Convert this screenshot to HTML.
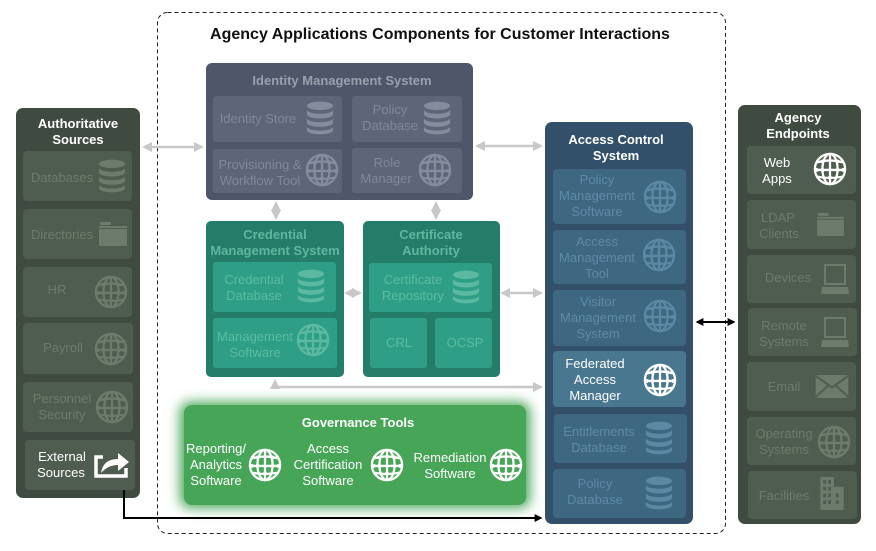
<!DOCTYPE html>
<html><head><meta charset="utf-8"><style>
html,body{margin:0;padding:0;background:#fff;}
svg{display:block;font-family:"Liberation Sans",sans-serif;}
</style></head><body>
<svg width="876" height="551" viewBox="0 0 876 551" xmlns="http://www.w3.org/2000/svg">
<defs>
<symbol id="globe" viewBox="0 0 36 36" overflow="visible">
<g fill="none" stroke="currentColor" stroke-width="2.4">
<circle cx="18" cy="18" r="16"/>
<ellipse cx="18" cy="18" rx="8" ry="16"/>
<line x1="18" y1="2" x2="18" y2="34"/>
<path d="M4 11 Q18 7 32 11"/>
<path d="M2.5 19 H33.5"/>
<path d="M4 26 Q18 29 32 26"/>
</g>
<g fill="currentColor"><circle cx="10" cy="10" r="2"/><circle cx="26" cy="10" r="2"/><circle cx="10" cy="19" r="2"/><circle cx="26" cy="19" r="2"/><circle cx="18" cy="27" r="2"/><circle cx="4" cy="19" r="2"/><circle cx="32" cy="19" r="2"/></g>
</symbol>
<symbol id="db" viewBox="0 0 30 36" overflow="visible">
<g fill="currentColor">
<ellipse cx="15" cy="5" rx="14" ry="4.5"/>
<path d="M1 9 v5 a14 4.5 0 0 0 28 0 v-5 a14 4.5 0 0 1 -28 0z"/>
<path d="M1 18 v5 a14 4.5 0 0 0 28 0 v-5 a14 4.5 0 0 1 -28 0z"/>
<path d="M1 27 v4 a14 4.5 0 0 0 28 0 v-4 a14 4.5 0 0 1 -28 0z"/>
</g>
</symbol>
<symbol id="folder" viewBox="0 0 28 24" overflow="visible">
<g fill="currentColor"><rect x="1" y="0" width="11" height="3"/><rect x="0" y="4" width="28" height="2"/><rect x="0" y="7" width="28" height="17"/></g>
</symbol>
<symbol id="laptop" viewBox="0 0 28 30" overflow="visible">
<g fill="currentColor"><path d="M3 0 H25 V21 H3Z M5 2 V19 H23 V2Z" fill-rule="evenodd"/><path d="M1 23 H27 L28 30 H0Z"/></g>
</symbol>
<symbol id="mail" viewBox="0 0 34 24" overflow="visible">
<rect x="0" y="0" width="34" height="24" fill="currentColor"/>
<path d="M0 1 L17 13 L34 1 M0 23 L13 11 M34 23 L21 11" stroke="var(--bg)" stroke-width="2" fill="none"/>
</symbol>
<symbol id="bldg" viewBox="0 0 24 34" overflow="visible">
<path fill="currentColor" fill-rule="evenodd" d="M0 0 H14 V10 H24 V34 H0Z M3 3h3v4h-3z M8 3h3v4h-3z M3 10h3v4h-3z M8 10h3v4h-3z M3 17h3v4h-3z M8 17h3v4h-3z M16 17h3v4h-3z M3 24h3v4h-3z M8 24h3v4h-3z M16 24h3v4h-3z"/>
</symbol>
<filter id="glow" x="-20%" y="-40%" width="140%" height="180%"><feGaussianBlur stdDeviation="6"/></filter>
<marker id="ga" viewBox="0 0 10 10" refX="8" refY="5" markerWidth="4" markerHeight="4" orient="auto-start-reverse"><path d="M0 0 L10 5 L0 10z" fill="#c8c8c8"/></marker>
<marker id="ba" viewBox="0 0 10 10" refX="8" refY="5" markerWidth="4" markerHeight="4" orient="auto-start-reverse"><path d="M0 0 L10 5 L0 10z" fill="#000"/></marker>
</defs>

<!-- dashed container -->
<rect x="157.5" y="12.5" width="568" height="521" rx="10" fill="none" stroke="#222" stroke-dasharray="4,3"/>
<text x="440" y="39" text-anchor="middle" font-size="16" font-weight="bold" fill="#111">Agency Applications Components for Customer Interactions</text>

<!-- gray connectors -->
<g stroke="#c8c8c8" stroke-width="2.5" fill="none">
<line x1="144" y1="147" x2="202" y2="147" marker-start="url(#ga)" marker-end="url(#ga)"/>
<line x1="477" y1="146" x2="541" y2="146" marker-start="url(#ga)" marker-end="url(#ga)"/>
<line x1="276" y1="203" x2="276" y2="218" marker-start="url(#ga)" marker-end="url(#ga)"/>
<line x1="436" y1="203" x2="436" y2="218" marker-start="url(#ga)" marker-end="url(#ga)"/>
<line x1="346" y1="293" x2="360" y2="293" marker-start="url(#ga)" marker-end="url(#ga)"/>
<line x1="502" y1="293" x2="541" y2="293" marker-start="url(#ga)" marker-end="url(#ga)"/>
<polyline points="275,381 275,387 541,387" marker-start="url(#ga)" marker-end="url(#ga)"/>
</g>

<!-- Authoritative sources -->
<rect x="16" y="108" width="124" height="390" rx="7" fill="#3f4a40"/>
<text x="78" y="128" text-anchor="middle" font-size="13" font-weight="bold" fill="#fff">Authoritative</text>
<text x="78" y="144" text-anchor="middle" font-size="13" font-weight="bold" fill="#fff">Sources</text>
<g fill="#4f5d50">
<rect x="23" y="151" width="109" height="50" rx="4"/>
<rect x="23" y="209" width="109" height="50" rx="4"/>
<rect x="23" y="267" width="109" height="50" rx="4"/>
<rect x="23" y="323" width="110" height="51" rx="4"/>
<rect x="23" y="382" width="110" height="50" rx="4"/>
<rect x="25" y="440" width="110" height="50" rx="4"/>
</g>
<g font-size="13" fill="#6c7b6c" text-anchor="middle">
<text x="62" y="182">Databases</text>
<text x="62" y="239">Directories</text>
<text x="57" y="294">HR</text>
<text x="63" y="352">Payroll</text>
<text x="62" y="403">Personnel</text><text x="62" y="419">Security</text>
</g>
<g font-size="13" fill="#fff" text-anchor="middle"><text x="62" y="461">External</text><text x="61" y="477">Sources</text></g>
<g color="#6c7b6c">
<use href="#db" x="98" y="159" width="28" height="34"/>
<use href="#folder" x="99" y="222" width="28" height="24"/>
<use href="#globe" x="94" y="275" width="34" height="34"/>
<use href="#globe" x="94" y="332" width="34" height="34"/>
<use href="#globe" x="95" y="390" width="34" height="34"/>
</g>
<g fill="none" stroke="#fff" stroke-width="3.5">
<path d="M103 457 H96 V476 H126 V468"/>
</g>
<path d="M101 473 Q103 459 118 459 V453 L129 462 L118 471 V465 Q108 465 101 473Z" fill="#fff"/>

<!-- IMS -->
<rect x="206" y="63" width="267" height="137" rx="6" fill="#50566a"/>
<text x="342" y="85" text-anchor="middle" font-size="13" font-weight="bold" fill="#9a9fae">Identity Management System</text>
<g fill="#5e6579">
<rect x="213" y="96" width="129" height="46" rx="3"/>
<rect x="352" y="96" width="110" height="46" rx="3"/>
<rect x="213" y="149" width="129" height="44" rx="3"/>
<rect x="352" y="148" width="110" height="45" rx="3"/>
</g>
<g font-size="13" fill="#808799" text-anchor="middle">
<text x="258" y="123">Identity Store</text>
<text x="390" y="114">Policy</text><text x="390" y="130">Database</text>
<text x="260" y="169">Provisioning &amp;</text><text x="260" y="185">Workflow Tool</text>
<text x="387" y="167">Role</text><text x="386" y="183">Manager</text>
</g>
<g color="#858c9e">
<use href="#db" x="306" y="101" width="28" height="34"/>
<use href="#db" x="423" y="101" width="28" height="34"/>
<use href="#globe" x="305" y="153" width="34" height="34"/>
<use href="#globe" x="418" y="153" width="34" height="34"/>
</g>

<!-- CMS -->
<rect x="206" y="221" width="138" height="156" rx="5" fill="#237d69"/>
<text x="275" y="239" text-anchor="middle" font-size="13" font-weight="bold" fill="#5fb7a0">Credential</text>
<text x="275" y="255" text-anchor="middle" font-size="13" font-weight="bold" fill="#5fb7a0">Management System</text>
<rect x="213" y="262" width="123" height="50" rx="3" fill="#2e9e86"/>
<rect x="213" y="318" width="124" height="50" rx="3" fill="#2e9e86"/>
<!-- CA -->
<rect x="363" y="221" width="137" height="156" rx="5" fill="#237d69"/>
<text x="431" y="239" text-anchor="middle" font-size="13" font-weight="bold" fill="#5fb7a0">Certificate</text>
<text x="431" y="255" text-anchor="middle" font-size="13" font-weight="bold" fill="#5fb7a0">Authority</text>
<rect x="369" y="263" width="123" height="49" rx="3" fill="#2e9e86"/>
<rect x="370" y="318" width="57" height="50" rx="3" fill="#2e9e86"/>
<rect x="435" y="318" width="57" height="50" rx="3" fill="#2e9e86"/>
<g font-size="13" fill="#5cbba1" text-anchor="middle">
<text x="254" y="284">Credential</text><text x="254" y="300">Database</text>
<text x="255" y="341">Management</text><text x="255" y="357">Software</text>
<text x="413" y="284">Certificate</text><text x="413" y="300">Repository</text>
<text x="399" y="347">CRL</text><text x="465" y="347">OCSP</text>
</g>
<g color="#5ab9a0">
<use href="#db" x="297" y="269" width="28" height="34"/>
<use href="#db" x="452" y="270" width="28" height="34"/>
<use href="#globe" x="296" y="323" width="34" height="34"/>
</g>

<!-- Governance -->
<rect x="180" y="402" width="350" height="106" rx="10" fill="#46a556" filter="url(#glow)"/>
<rect x="184" y="405" width="342" height="100" rx="8" fill="#46a556"/>
<text x="358" y="427" text-anchor="middle" font-size="13" font-weight="bold" fill="#fff">Governance Tools</text>
<g font-size="13" fill="#fff" text-anchor="middle">
<text x="216" y="453">Reporting/</text><text x="216" y="469">Analytics</text><text x="216" y="485">Software</text>
<text x="328" y="453">Access</text><text x="328" y="469">Certification</text><text x="328" y="485">Software</text>
<text x="450" y="462">Remediation</text><text x="450" y="478">Software</text>
</g>
<g color="#fff">
<use href="#globe" x="248" y="448" width="34" height="34"/>
<use href="#globe" x="370" y="448" width="34" height="34"/>
<use href="#globe" x="489" y="448" width="34" height="34"/>
</g>

<!-- ACS -->
<rect x="545" y="122" width="148" height="402" rx="7" fill="#33506a"/>
<text x="616" y="144" text-anchor="middle" font-size="13" font-weight="bold" fill="#fff">Access Control</text>
<text x="616" y="160" text-anchor="middle" font-size="13" font-weight="bold" fill="#fff">System</text>
<g fill="#3e6782">
<rect x="553" y="169" width="133" height="55" rx="4"/>
<rect x="553" y="230" width="133" height="54" rx="4"/>
<rect x="553" y="290" width="133" height="56" rx="4"/>
<rect x="554" y="414" width="133" height="49" rx="4"/>
<rect x="553" y="469" width="133" height="49" rx="4"/>
</g>
<rect x="553" y="351" width="133" height="56" rx="4" fill="#48778f"/>
<g font-size="13" fill="#5f8aa5" text-anchor="middle">
<text x="597" y="184">Policy</text><text x="597" y="200">Management</text><text x="597" y="216">Software</text>
<text x="597" y="246">Access</text><text x="597" y="262">Management</text><text x="597" y="278">Tool</text>
<text x="598" y="306">Visitor</text><text x="598" y="322">Management</text><text x="598" y="338">System</text>
<text x="599" y="436">Entitlements</text><text x="599" y="452">Database</text>
<text x="595" y="488">Policy</text><text x="595" y="504">Database</text>
</g>
<g font-size="13" fill="#fff" text-anchor="middle"><text x="595" y="368">Federated</text><text x="595" y="384">Access</text><text x="595" y="400">Manager</text></g>
<g color="#5d88a3">
<use href="#globe" x="643" y="180" width="34" height="34"/>
<use href="#globe" x="642" y="238" width="34" height="34"/>
<use href="#globe" x="643" y="299" width="34" height="34"/>
<use href="#db" x="645" y="421" width="28" height="34"/>
<use href="#db" x="645" y="476" width="28" height="34"/>
</g>
<g color="#fff"><use href="#globe" x="643" y="363" width="34" height="34"/></g>

<!-- Endpoints -->
<rect x="738" y="105" width="123" height="419" rx="7" fill="#3f4a40"/>
<text x="798" y="122" text-anchor="middle" font-size="13" font-weight="bold" fill="#fff">Agency</text>
<text x="798" y="138" text-anchor="middle" font-size="13" font-weight="bold" fill="#fff">Endpoints</text>
<g fill="#4f5d50">
<rect x="747" y="146" width="109" height="48" rx="4"/>
<rect x="747" y="200" width="109" height="49" rx="4"/>
<rect x="747" y="255" width="109" height="48" rx="4"/>
<rect x="748" y="308" width="109" height="48" rx="4"/>
<rect x="747" y="362" width="109" height="49" rx="4"/>
<rect x="747" y="417" width="109" height="48" rx="4"/>
<rect x="748" y="471" width="109" height="48" rx="4"/>
</g>
<g font-size="13" fill="#fff" text-anchor="middle"><text x="777" y="167">Web</text><text x="777" y="183">Apps</text></g>
<g font-size="13" fill="#6c7b6c" text-anchor="middle">
<text x="778" y="222">LDAP</text><text x="779" y="238">Clients</text>
<text x="788" y="282">Devices</text>
<text x="784" y="330">Remote</text><text x="784" y="346">Systems</text>
<text x="784" y="391">Email</text>
<text x="784" y="438">Operating</text><text x="784" y="454">Systems</text>
<text x="784" y="500">Facilities</text>
</g>
<g color="#fff"><use href="#globe" x="813" y="152" width="34" height="34"/></g>
<g color="#6c7b6c" style="--bg:#4f5d50">
<use href="#folder" x="817" y="213" width="27" height="23"/>
<use href="#laptop" x="821" y="264" width="28" height="30"/>
<use href="#laptop" x="821" y="317" width="28" height="30"/>
<use href="#mail" x="815" y="375" width="34" height="23"/>
<use href="#globe" x="817" y="425" width="34" height="34"/>
<use href="#bldg" x="820" y="477" width="24" height="33"/>
</g>

<!-- black connectors -->
<g stroke="#000" stroke-width="2" fill="none">
<line x1="697" y1="322" x2="734" y2="322" marker-start="url(#ba)" marker-end="url(#ba)"/>
<polyline points="124,490 124,518 541,518" marker-end="url(#ba)"/>
</g>
</svg>
</body></html>
